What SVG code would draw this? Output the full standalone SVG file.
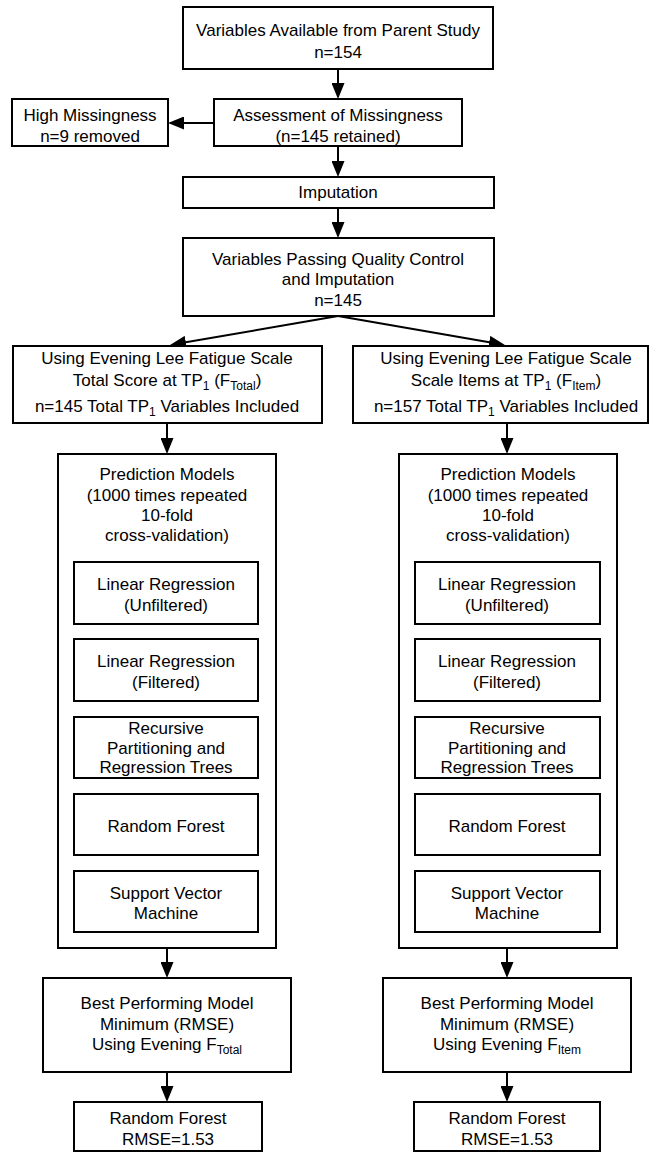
<svg xmlns="http://www.w3.org/2000/svg" width="650" height="1153" viewBox="0 0 650 1153">
<defs>
<marker id="ah" markerUnits="userSpaceOnUse" markerWidth="16" markerHeight="13" refX="6" refY="6.5" orient="auto" viewBox="0 0 16 13">
<path d="M0,0 L16,6.5 L0,13 Z" fill="#000"/>
</marker>
</defs>
<style>
rect{fill:#fff;stroke:#000;stroke-width:2}
text{font-family:"Liberation Sans",Arial,Helvetica,sans-serif;font-size:17px;fill:#000;text-anchor:middle}
.sub{font-size:12px}
line{stroke:#000;stroke-width:2;marker-end:url(#ah)}
</style>
<rect x="0" y="0" width="650" height="1153" style="stroke:none;fill:#fff"/>
<g id="connectors">
<line x1="338" y1="69" x2="338" y2="89"/>
<line x1="214" y1="123" x2="178" y2="123"/>
<line x1="338" y1="146" x2="338" y2="167"/>
<line x1="338" y1="208" x2="338" y2="228"/>
<line x1="338" y1="316" x2="179.9" y2="343.3"/>
<line x1="338" y1="316" x2="495.1" y2="343.3"/>
<line x1="167" y1="423" x2="167" y2="444"/>
<line x1="507" y1="423" x2="507" y2="444"/>
<line x1="167" y1="948" x2="167" y2="968"/>
<line x1="507" y1="948" x2="507" y2="968"/>
<line x1="167" y1="1072" x2="167" y2="1092"/>
<line x1="507" y1="1072" x2="507" y2="1092"/>
</g>
<g id="parent">
<rect x="183" y="7" width="310" height="62"/>
<text x="338" y="36">Variables Available from Parent Study</text>
<text x="338" y="58">n=154</text>
</g>
<g id="highmiss">
<rect x="12" y="99" width="156" height="47"/>
<text x="90" y="121">High Missingness</text>
<text x="90" y="142">n=9 removed</text>
</g>
<g id="assess">
<rect x="214" y="99" width="248" height="47"/>
<text x="338" y="121">Assessment of Missingness</text>
<text x="338" y="142">(n=145 retained)</text>
</g>
<g id="imputation">
<rect x="183" y="177" width="311" height="31"/>
<text x="338" y="198">Imputation</text>
</g>
<g id="qc">
<rect x="183" y="238" width="311" height="78"/>
<text x="338" y="265">Variables Passing Quality Control</text>
<text x="338" y="285">and Imputation</text>
<text x="338" y="306">n=145</text>
</g>
<g id="ftotal">
<rect x="13" y="346" width="309" height="77"/>
<text x="167" y="364">Using Evening Lee Fatigue Scale</text>
<text x="167" y="386">Total Score at TP<tspan class="sub" dy="4">1</tspan><tspan dy="-4"> (F</tspan><tspan class="sub" dy="4">Total</tspan><tspan dy="-4">)</tspan></text>
<text x="167" y="412">n=145 Total TP<tspan class="sub" dy="4">1</tspan><tspan dy="-4"> Variables Included</tspan></text>
</g>
<g id="fitem">
<rect x="353" y="346" width="295" height="77"/>
<text x="506" y="364">Using Evening Lee Fatigue Scale</text>
<text x="506" y="386">Scale Items at TP<tspan class="sub" dy="4">1</tspan><tspan dy="-4"> (F</tspan><tspan class="sub" dy="4">Item</tspan><tspan dy="-4">)</tspan></text>
<text x="506" y="412">n=157 Total TP<tspan class="sub" dy="4">1</tspan><tspan dy="-4"> Variables Included</tspan></text>
</g>
<g id="pred-left">
<rect x="58" y="454" width="218" height="494"/>
<text x="167" y="480">Prediction Models</text>
<text x="167" y="501">(1000 times repeated</text>
<text x="167" y="521">10-fold</text>
<text x="167" y="541">cross-validation)</text>
</g>
<g id="lr-unf-left">
<rect x="74" y="562" width="184" height="62"/>
<text x="166" y="590">Linear Regression</text>
<text x="166" y="611">(Unfiltered)</text>
</g>
<g id="lr-fil-left">
<rect x="74" y="639" width="184" height="62"/>
<text x="166" y="667">Linear Regression</text>
<text x="166" y="688">(Filtered)</text>
</g>
<g id="rpart-left">
<rect x="74" y="717" width="184" height="61"/>
<text x="166" y="734">Recursive</text>
<text x="166" y="754">Partitioning and</text>
<text x="166" y="773">Regression Trees</text>
</g>
<g id="rf-left">
<rect x="74" y="794" width="184" height="61"/>
<text x="166" y="832">Random Forest</text>
</g>
<g id="svm-left">
<rect x="74" y="871" width="184" height="61"/>
<text x="166" y="899">Support Vector</text>
<text x="166" y="919">Machine</text>
</g>
<g id="pred-right">
<rect x="399" y="454" width="218" height="494"/>
<text x="508" y="480">Prediction Models</text>
<text x="508" y="501">(1000 times repeated</text>
<text x="508" y="521">10-fold</text>
<text x="508" y="541">cross-validation)</text>
</g>
<g id="lr-unf-right">
<rect x="415" y="562" width="185" height="62"/>
<text x="507" y="590">Linear Regression</text>
<text x="507" y="611">(Unfiltered)</text>
</g>
<g id="lr-fil-right">
<rect x="415" y="639" width="185" height="62"/>
<text x="507" y="667">Linear Regression</text>
<text x="507" y="688">(Filtered)</text>
</g>
<g id="rpart-right">
<rect x="415" y="717" width="185" height="61"/>
<text x="507" y="734">Recursive</text>
<text x="507" y="754">Partitioning and</text>
<text x="507" y="773">Regression Trees</text>
</g>
<g id="rf-right">
<rect x="415" y="794" width="185" height="61"/>
<text x="507" y="832">Random Forest</text>
</g>
<g id="svm-right">
<rect x="415" y="871" width="185" height="61"/>
<text x="507" y="899">Support Vector</text>
<text x="507" y="919">Machine</text>
</g>
<g id="best-left">
<rect x="43" y="978" width="248" height="94"/>
<text x="167" y="1009">Best Performing Model</text>
<text x="167" y="1030">Minimum (RMSE)</text>
<text x="167" y="1050">Using Evening F<tspan class="sub" dy="4">Total</tspan></text>
</g>
<g id="best-right">
<rect x="383" y="978" width="248" height="94"/>
<text x="507" y="1009">Best Performing Model</text>
<text x="507" y="1030">Minimum (RMSE)</text>
<text x="507" y="1050">Using Evening F<tspan class="sub" dy="4">Item</tspan></text>
</g>
<g id="result-left">
<rect x="74" y="1102" width="188" height="49"/>
<text x="168" y="1124">Random Forest</text>
<text x="168" y="1145">RMSE=1.53</text>
</g>
<g id="result-right">
<rect x="414" y="1102" width="186" height="49"/>
<text x="507" y="1124">Random Forest</text>
<text x="507" y="1145">RMSE=1.53</text>
</g>
</svg>
